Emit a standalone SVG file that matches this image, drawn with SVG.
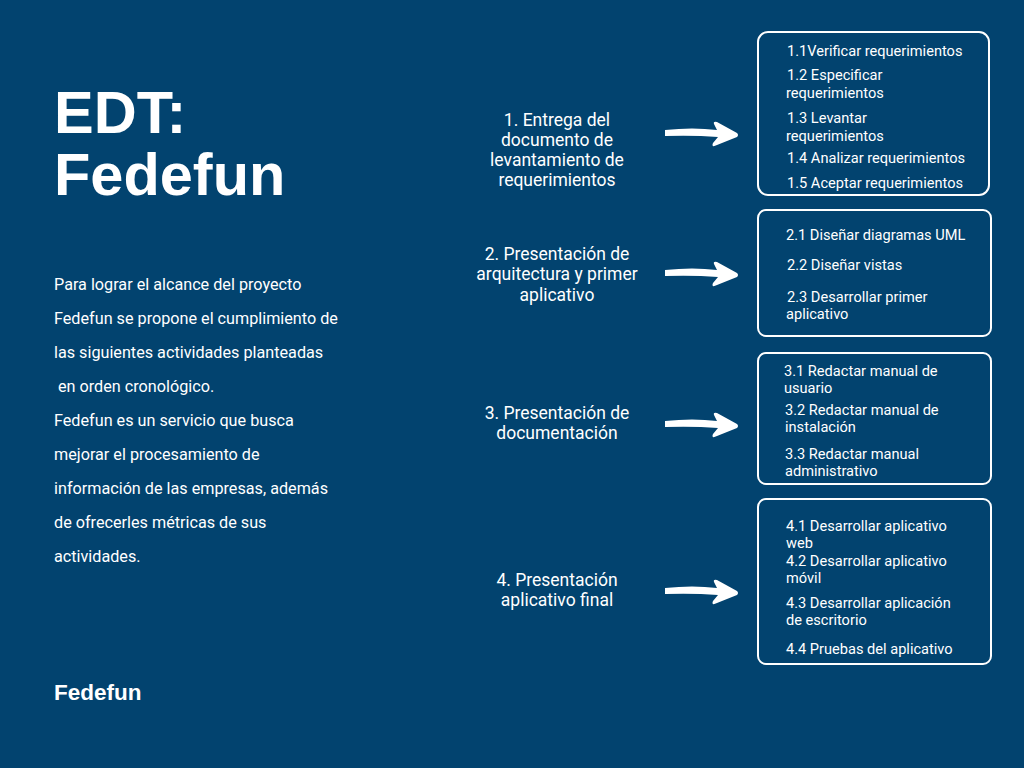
<svg xmlns="http://www.w3.org/2000/svg" width="1024" height="768" viewBox="0 0 1024 768">
<style>
.t{font-family:Roboto,"Liberation Sans",sans-serif;fill:#ffffff}
.box{fill:none;stroke:#ffffff;stroke-width:2}
.bt{font-family:Roboto,"Liberation Sans",sans-serif;fill:#ffffff;font-size:14.6px}
.lb{font-family:Roboto,"Liberation Sans",sans-serif;fill:#ffffff;font-size:17.5px;text-anchor:middle}
.p{font-family:Roboto,"Liberation Sans",sans-serif;fill:#ffffff;font-size:16.2px}
.h{font-family:"Liberation Sans",Arial,sans-serif;font-weight:bold;fill:#ffffff}
.arr{fill:#ffffff}
</style>
<defs>
<path id="arrow" d="M0,-2 Q28,-5 52,-2 L49,-8 Q48,-11 52,-10 L72,1 Q74,3 72,5 L52,13 Q46,16 48,11 L53,5 Q28,3 0,4 Z"/>
</defs>
<rect width="1024" height="768" fill="#02436F"/>
<g id="title">
<text class="h" x="54" y="133" font-size="59.5">EDT:</text>
<text class="h" x="54" y="195" font-size="59.5">Fedefun</text>
</g>
<g id="description" class="p">
<text x="54" y="290">Para lograr el alcance del proyecto</text>
<text x="54" y="324">Fedefun se propone el cumplimiento de</text>
<text x="54" y="358">las siguientes actividades planteadas</text>
<text x="54" y="392" xml:space="preserve"> en orden cronológico.</text>
<text x="54" y="426">Fedefun es un servicio que busca</text>
<text x="54" y="460">mejorar el procesamiento de</text>
<text x="54" y="494">información de las empresas, además</text>
<text x="54" y="528">de ofrecerles métricas de sus</text>
<text x="54" y="562">actividades.</text>
</g>
<g id="footer">
<text class="h" x="54" y="700" font-size="22.5">Fedefun</text>
</g>
<g id="node1">
<text class="lb"><tspan x="557" y="126">1. Entrega del</tspan><tspan x="557" y="146">documento de</tspan><tspan x="557" y="166">levantamiento de</tspan><tspan x="557" y="186">requerimientos</tspan></text>
</g>
<g id="node2">
<text class="lb"><tspan x="557" y="260">2. Presentación de</tspan><tspan x="557" y="280">arquitectura y primer</tspan><tspan x="557" y="301">aplicativo</tspan></text>
</g>
<g id="node3">
<text class="lb"><tspan x="557" y="419">3. Presentación de</tspan><tspan x="557" y="439">documentación</tspan></text>
</g>
<g id="node4">
<text class="lb"><tspan x="557" y="586">4. Presentación</tspan><tspan x="557" y="606">aplicativo final</tspan></text>
</g>
<g id="connectors" class="arr">
<use href="#arrow" transform="translate(665,132)"/>
<use href="#arrow" transform="translate(665,272)"/>
<use href="#arrow" transform="translate(665,423)"/>
<use href="#arrow" transform="translate(665,590)"/>
</g>
<g id="box1">
<rect class="box" x="758" y="32" width="231" height="163" rx="10"/>
<text class="bt" x="787" y="56">1.1Verificar requerimientos</text>
<text class="bt" x="787" y="80">1.2 Especificar</text>
<text class="bt" x="786" y="98">requerimientos</text>
<text class="bt" x="787" y="123">1.3 Levantar</text>
<text class="bt" x="786" y="141">requerimientos</text>
<text class="bt" x="787" y="163">1.4 Analizar requerimientos</text>
<text class="bt" x="787" y="188">1.5 Aceptar requerimientos</text>
</g>
<g id="box2">
<rect class="box" x="758" y="210" width="233" height="126" rx="8"/>
<text class="bt" x="786" y="240">2.1 Diseñar diagramas UML</text>
<text class="bt" x="787" y="270">2.2 Diseñar vistas</text>
<text class="bt" x="787" y="302">2.3 Desarrollar primer</text>
<text class="bt" x="786" y="319">aplicativo</text>
</g>
<g id="box3">
<rect class="box" x="758" y="353" width="233" height="131" rx="8"/>
<text class="bt" x="784" y="376">3.1 Redactar manual de</text>
<text class="bt" x="784" y="393">usuario</text>
<text class="bt" x="785" y="415">3.2 Redactar manual de</text>
<text class="bt" x="785" y="432">instalación</text>
<text class="bt" x="785" y="459">3.3 Redactar manual</text>
<text class="bt" x="785" y="476">administrativo</text>
</g>
<g id="box4">
<rect class="box" x="758" y="499" width="233" height="165" rx="8"/>
<text class="bt" x="786" y="531">4.1 Desarrollar aplicativo</text>
<text class="bt" x="786" y="548">web</text>
<text class="bt" x="786" y="566">4.2 Desarrollar aplicativo</text>
<text class="bt" x="786" y="583">móvil</text>
<text class="bt" x="786" y="608">4.3 Desarrollar aplicación</text>
<text class="bt" x="786" y="625">de escritorio</text>
<text class="bt" x="786" y="654">4.4 Pruebas del aplicativo</text>
</g>
</svg>
